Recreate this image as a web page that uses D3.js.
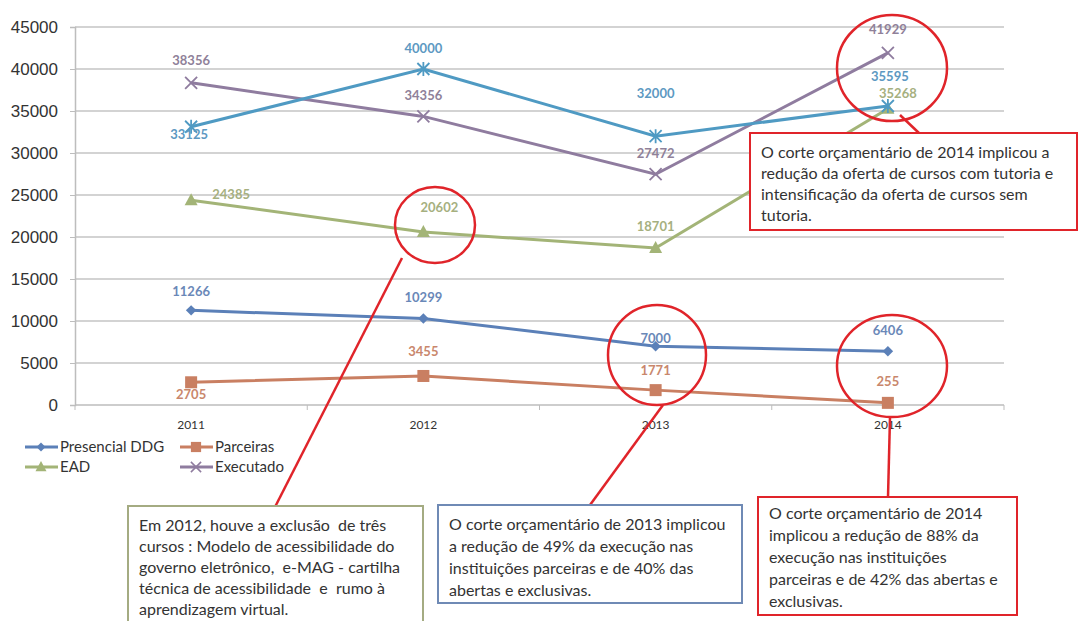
<!DOCTYPE html>
<html>
<head>
<meta charset="utf-8">
<script src="https://cdn.jsdelivr.net/npm/d3@7"></script>
<style>
  body { margin: 0; background: #fff; }
  svg { font-family: Lato, "Liberation Sans", sans-serif; }
  .note { white-space: pre; }
</style>
</head>
<body>
<svg id="chart" width="1081" height="621"></svg>
<script>
// data
const years = ["2011", "2012", "2013", "2014"];
const presencial = [11266, 10299, 7000, 6406];
const parceiras = [2705, 3455, 1771, 255];
const ead = [24385, 20602, 18701, 35268];
const executado = [38356, 34356, 27472, 41929];
const meta = [33125, 40000, 32000, 35595];   // light blue line, not in legend
const yTicks = [0, 5000, 10000, 15000, 20000, 25000, 30000, 35000, 40000, 45000];

const notes = [
  ["O corte orçamentário de 2014 implicou a",
   "redução da oferta de cursos com tutoria e",
   "intensificação da oferta de cursos sem",
   "tutoria."],
  ["Em 2012, houve a exclusão  de três",
   "cursos : Modelo de acessibilidade do",
   "governo eletrônico,  e-MAG - cartilha",
   "técnica de acessibilidade  e  rumo à",
   "aprendizagem virtual."],
  ["O corte orçamentário de 2013 implicou",
   "a redução de 49% da execução nas",
   "instituições parceiras e de 40% das",
   "abertas e exclusivas."],
  ["O corte orçamentário de 2014",
   "implicou a redução de 88% da",
   "execução nas instituições",
   "parceiras e de 42% das abertas e",
   "exclusivas."]
];

const svg = d3.select("#chart");

let x = d3.scalePoint().domain(years).range([75, 1004]).padding(0.5);
let xBand = d3.scaleBand().domain(years).range([75, 1004]);
let y = d3.scaleLinear().domain([0, 45000]).range([405, 27]);

// gridlines
svg.append("g")
  .selectAll("line")
  .data(yTicks.filter(d => d > 0))
  .enter().append("line")
  .attr("x1", 75).attr("x2", 1004)
  .attr("y1", d => y(d)).attr("y2", d => y(d))
  .attr("stroke", "#c4c4c4").attr("stroke-width", 1.5);

// y axis
let yAxis = svg.append("g")
  .attr("transform", "translate(75,0)")
  .call(d3.axisLeft(y).tickValues(yTicks).tickSize(5).tickPadding(12).tickFormat(d3.format("d")));
yAxis.select(".domain").attr("stroke", "#bdbdbd").attr("stroke-width", 1.5);
yAxis.selectAll(".tick line").attr("stroke", "#bdbdbd");
yAxis.selectAll("text").attr("font-size", 17).attr("fill", "#333");

// x axis, ticks on category boundaries
let xAxis = svg.append("g").attr("transform", "translate(0,405)");
xAxis.append("line").attr("x1", 75).attr("x2", 1004)
  .attr("stroke", "#bdbdbd").attr("stroke-width", 1.5);
xAxis.selectAll(".bt")
  .data(years.concat(["end"]))
  .enter().append("line")
  .attr("x1", (d, i) => xBand(years[0]) + i * xBand.bandwidth())
  .attr("x2", (d, i) => xBand(years[0]) + i * xBand.bandwidth())
  .attr("y1", 0).attr("y2", 5)
  .attr("stroke", "#bdbdbd");
xAxis.selectAll("text")
  .data(years)
  .enter().append("text")
  .attr("x", d => x(d)).attr("y", 24)
  .attr("text-anchor", "middle")
  .attr("font-size", 12).attr("fill", "#333")
  .text(d => d);

const series = [
  { name: "Presencial DDG", values: presencial, color: "#5b80b8", label: "#6a88b8", marker: "diamond",
    off: [[0, -19], [0, -21], [0, -8], [0, -21]] },
  { name: "Parceiras", values: parceiras, color: "#c97f62", label: "#c9876c", marker: "square",
    off: [[0, 12], [0, -25], [0, -20], [0, -21]] },
  { name: "EAD", values: ead, color: "#a3b477", label: "#a6b07f", marker: "triangle",
    off: [[40, -6], [16, -24], [0, -21], [10, -15]] },
  { name: "Executado", values: executado, color: "#8f7c9f", label: "#8f8199", marker: "x",
    off: [[0, -22], [0, -21], [0, -21], [0, -23]] },
  { name: null, values: meta, color: "#4f9ac3", label: "#5d99c2", marker: "star",
    off: [[-2, 8], [0, -21], [0, -43], [2, -30]] }
];

function drawMarker(g, type, color) {
  if (type === "diamond") {
    g.append("path").attr("d", d3.symbol(d3.symbolDiamond2, 70)()).attr("fill", color);
  } else if (type === "square") {
    g.append("rect").attr("x", -6).attr("y", -6).attr("width", 12).attr("height", 12).attr("fill", color);
  } else if (type === "triangle") {
    g.append("path").attr("d", "M0,-7L6.5,5L-6.5,5Z").attr("fill", color);
  } else if (type === "x") {
    g.append("path").attr("d", "M-6,-6L6,6M-6,6L6,-6").attr("stroke", color).attr("stroke-width", 1.8);
  } else {
    g.append("path").attr("d", "M-6,-6L6,6M-6,6L6,-6M0,-7L0,7").attr("stroke", color).attr("stroke-width", 1.8);
  }
}

let line = d3.line().x((d, i) => x(years[i])).y(d => y(d));

series.forEach(s => {
  svg.append("path")
    .attr("d", line(s.values))
    .attr("fill", "none")
    .attr("stroke", s.color)
    .attr("stroke-width", 3);
  s.values.forEach((v, i) => {
    let g = svg.append("g").attr("transform", "translate(" + x(years[i]) + "," + y(v) + ")");
    drawMarker(g, s.marker, s.color);
  });
});

series.forEach(s => {
  s.values.forEach((v, i) => {
    svg.append("text")
      .attr("x", x(years[i]) + s.off[i][0])
      .attr("y", y(v) + s.off[i][1])
      .attr("dy", "0.35em")
      .attr("text-anchor", "middle")
      .attr("font-size", 13).attr("font-weight", "bold")
      .attr("fill", s.label)
      .text(v);
  });
});

// legend
let legend = svg.append("g");
series.filter(s => s.name).forEach((s, i) => {
  let lx = 25 + (i % 2) * 155, ly = 447 + Math.floor(i / 2) * 20;
  legend.append("line").attr("x1", lx).attr("x2", lx + 33).attr("y1", ly).attr("y2", ly)
    .attr("stroke", s.color).attr("stroke-width", 3);
  let g = legend.append("g").attr("transform", "translate(" + (lx + 16) + "," + ly + ") scale(0.85)");
  drawMarker(g, s.marker, s.color);
  legend.append("text").attr("x", lx + 35).attr("y", ly).attr("dy", "0.35em")
    .attr("font-size", 15).attr("fill", "#333").text(s.name);
});

// red circles and connectors
const red = "#e0242a";
const circles = [[435, 225, 40, 38], [657, 355, 49, 50], [892, 366, 55, 51], [892, 68, 55, 53]];
svg.selectAll(".circ").data(circles).enter().append("ellipse")
  .attr("cx", d => d[0]).attr("cy", d => d[1]).attr("rx", d => d[2]).attr("ry", d => d[3])
  .attr("fill", "none").attr("stroke", red).attr("stroke-width", 2.5);
const connectors = [[402, 258, 275, 507], [663, 405, 590, 505], [890, 417, 888, 497], [900, 115, 920, 134]];
svg.selectAll(".conn").data(connectors).enter().append("line")
  .attr("x1", d => d[0]).attr("y1", d => d[1]).attr("x2", d => d[2]).attr("y2", d => d[3])
  .attr("stroke", red).attr("stroke-width", 2.5);

// annotation boxes
const boxes = [
  { x: 750, y: 133, w: 327, h: 97, stroke: red, lines: notes[0], ty: 152, lh: 21 },
  { x: 128, y: 506, w: 295, h: 130, stroke: "#a4ab82", lines: notes[1], ty: 525, lh: 21 },
  { x: 438, y: 505, w: 304, h: 98, stroke: "#6f8ab5", lines: notes[2], ty: 524, lh: 22 },
  { x: 758, y: 497, w: 259, h: 118, stroke: red, lines: notes[3], ty: 513, lh: 22 }
];
boxes.forEach(b => {
  svg.append("rect").attr("x", b.x).attr("y", b.y).attr("width", b.w).attr("height", b.h)
    .attr("fill", "#fff").attr("stroke", b.stroke).attr("stroke-width", 2);
  let t = svg.append("text").attr("class", "note").attr("font-size", 16).attr("fill", "#333");
  b.lines.forEach((l, i) => {
    t.append("tspan").attr("x", b.x + 11).attr("y", b.ty + i * b.lh).attr("dy", "0.35em").text(l);
  });
});
</script>
</body>
</html>
